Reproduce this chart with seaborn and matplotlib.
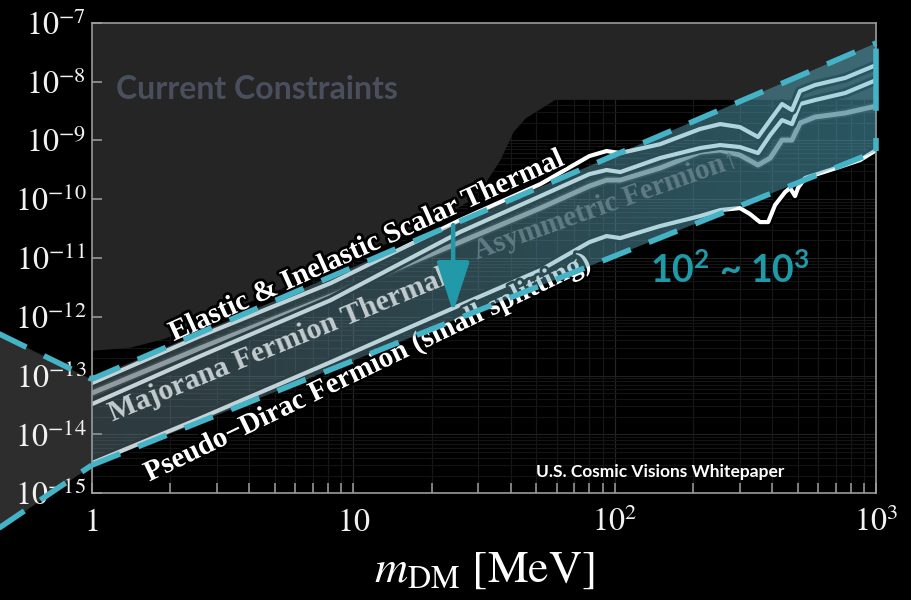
import numpy as np
import matplotlib
matplotlib.use("Agg")
import matplotlib.pyplot as plt
import matplotlib.patheffects as pe
from matplotlib.patches import Polygon
from matplotlib.ticker import LogLocator, NullLocator, NullFormatter
import seaborn as sns

# ---------------------------------------------------------------------------
# Thermal relic targets:  y = eps^2 alpha_D (m_DM / m_A')^4  versus m_DM [MeV]
# ---------------------------------------------------------------------------
mass_grid = [1.0, 2.6, 8.2, 25.6, 52, 80, 93, 105, 149, 212, 253, 301,
             353, 393, 436, 476, 511, 583, 760, 1000]
y_scalar = [7.45e-14, 4.70e-13, 3.74e-12, 4.41e-11, 1.81e-10, 5.41e-10,
            6.58e-10, 6.08e-10, 8.6e-10, 1.56e-9, 1.89e-9, 1.68e-9,
            1.14e-9, 2.21e-9, 4.14e-9, 3.27e-9, 6.89e-9, 8.71e-9,
            1.15e-8, 1.91e-8]
y_majorana = [3.27e-14, 2.15e-13, 1.92e-12, 2.76e-11, 1.13e-10, 2.67e-10,
              3.13e-10, 2.89e-10, 5.00e-10, 7.40e-10, 8.32e-10, 7.69e-10,
              6.08e-10, 1.23e-9, 2.21e-9, 1.89e-9, 4.14e-9, 4.84e-9,
              6.37e-9, 1.06e-8]
y_asymmetric = [5.04e-14, 2.94e-13, 2.25e-12, 1.86e-11, 7.06e-11, 1.67e-10,
                2.11e-10, 2.11e-10, 3.38e-10, 6.32e-10, 6.84e-10, 5.62e-10,
                3.80e-10, 5.00e-10, 1.01e-9, 1.01e-9, 1.97e-9, 2.49e-9,
                2.91e-9, 3.83e-9]

mass_pseudo_dirac = [1.0, 2.6, 8.2, 25.6, 52, 80, 93, 105, 149, 212, 253,
                     301, 329, 359, 386, 410, 448, 468, 489, 502, 534, 666,
                     867, 1000]
y_pseudo_dirac = [3.25e-15, 1.89e-14, 1.70e-13, 1.58e-12, 6.22e-12, 1.86e-11,
                  2.36e-11, 2.18e-11, 3.49e-11, 5.16e-11, 6.53e-11, 7.06e-11,
                  5.58e-11, 4.08e-11, 4.08e-11, 7.94e-11, 1.32e-10, 1.55e-10,
                  1.13e-10, 1.55e-10, 2.29e-10, 3.13e-10, 4.62e-10, 6.84e-10]

# Existing experimental limits (excluded above this edge)
limit_mass = [1.0, 1.40, 1.91, 2.60, 8.15, 19.7, 28.0, 32.5, 36.4, 40.8,
              45.4, 59.1, 1000]
limit_y = [2.7e-13, 3.05e-13, 4.35e-13, 8.1e-13, 6.8e-12, 3.8e-11, 9.8e-11,
           2.15e-10, 4.7e-10, 1.4e-9, 2.4e-9, 5.0e-9, 5.0e-9]

# Shifted target band (factor 10^2 - 10^3)
band_mass = [1.0, 1000.0]
band_upper = [8.71e-14, 4.52e-8]
band_lower = [3.01e-15, 6.5e-10]

# Zoom wedge leading in from the left panel
wedge_mass = [0.40, 1.0]
wedge_upper = [6.4e-13, 8.71e-14]
wedge_lower = [1.9e-16, 3.01e-15]

# Downward shift arrow
arrow_mass = 24.1
arrow_from = 3.63e-11
arrow_to = 1.2e-12

x_ticks = [1, 10, 100, 1000]
x_tick_labels = [r"$1$", r"$10$", r"$10^{2}$", r"$10^{3}$"]
y_ticks = [1e-15, 1e-14, 1e-13, 1e-12, 1e-11, 1e-10, 1e-9, 1e-8, 1e-7]
y_tick_labels = [r"$10^{-15}$", r"$10^{-14}$", r"$10^{-13}$", r"$10^{-12}$",
                 r"$10^{-11}$", r"$10^{-10}$", r"$10^{-9}$", r"$10^{-8}$",
                 r"$10^{-7}$"]

# ---------------------------------------------------------------------------
sns.set_style("dark", {"axes.facecolor": "black", "figure.facecolor": "black"})
plt.rcParams["mathtext.fontset"] = "stix"
plt.rcParams["font.family"] = ["DejaVu Sans"]

CYAN = "#44b3c6"
TEAL = "#1f9aa9"
SERIF = ["Liberation Serif", "DejaVu Serif"]

fig = plt.figure(figsize=(9.11, 6.0), dpi=100, facecolor="black")
ax = fig.add_axes([0.1007, 0.1778, 0.8612, 0.7844])
ax.set_facecolor("black")
ax.set_xscale("log")
ax.set_yscale("log")
ax.set_axisbelow(False)

# faint log grid
for dec in [1, 10, 100]:
    for k in range(1, 10):
        ax.axvline(dec * k, color="#262626" if k == 1 else "#171717", lw=0.9, zorder=0.5)
for dec in y_ticks[:-1]:
    for k in range(1, 10):
        ax.axhline(dec * k, color="#202020" if k == 1 else "#141414", lw=0.8, zorder=0.5)

# excluded region
ax.fill_between(limit_mass, limit_y, 1e-7, color="#252525", lw=0, zorder=1)

# wedge to the left of the axes
ax.fill_between(wedge_mass, wedge_lower, wedge_upper, color="#2d2d2d", lw=0,
                zorder=2, clip_on=False)

# thermal target curves
outline = [pe.Stroke(linewidth=7, foreground="black"), pe.Normal()]
sns.lineplot(x=mass_grid, y=y_asymmetric, ax=ax, color="#a3a3a3", lw=3.5,
             estimator=None, sort=False, zorder=2.2,
             path_effects=[pe.Stroke(linewidth=6, foreground="#1a1a1a"), pe.Normal()])
sns.lineplot(x=mass_grid, y=y_majorana, ax=ax, color="white", lw=3,
             estimator=None, sort=False, zorder=2.3, path_effects=outline)
sns.lineplot(x=mass_grid, y=y_scalar, ax=ax, color="white", lw=3,
             estimator=None, sort=False, zorder=2.4, path_effects=outline)
sns.lineplot(x=mass_pseudo_dirac, y=y_pseudo_dirac, ax=ax, color="white", lw=3,
             estimator=None, sort=False, zorder=2.4, path_effects=outline)

# curve labels
stroke = [pe.withStroke(linewidth=4, foreground="black")]
ax.text(11.2, 1.59e-11, "Elastic & Inelastic Scalar Thermal", rotation=24.3,
        ha="center", va="center", rotation_mode="anchor", color="white",
        fontsize=21, fontweight="bold", family=SERIF, zorder=3, path_effects=stroke)
ax.text(11.3, 1.34e-13, "Pseudo\u2212Dirac Fermion (small splitting)",
        rotation=25.8, ha="center", va="center", rotation_mode="anchor",
        color="white", fontsize=21, fontweight="bold", family=SERIF, zorder=3,
        path_effects=stroke)

# translucent shifted band with a left-to-right tint
band_poly = Polygon(np.column_stack([band_mass + band_mass[::-1],
                                     band_upper + band_lower[::-1]]),
                    closed=True, facecolor="none", edgecolor="none")
ax.add_patch(band_poly)
t = np.linspace(0, 1, 256)[:, None]
c_left = np.array([115, 145, 155, 0.40 * 255]) / 255
c_right = np.array([83, 174, 196, 0.50 * 255]) / 255
grad = (c_left * (1 - t) + c_right * t)[None, :, :]
img = ax.imshow(grad, extent=(0, 1, 0, 1), transform=ax.transAxes,
                aspect="auto", interpolation="bilinear", zorder=4)
img.set_clip_path(band_poly)

# labels sitting inside the band
ax.text(5.16, 3.3e-13, "Majorana Fermion Thermal", rotation=22.3,
        ha="center", va="center", rotation_mode="anchor", color="#c3cdd0",
        fontsize=21.5, fontweight="bold", family=SERIF, zorder=4.5)
ax.text(92.6, 7.94e-11, "Asymmetric Fermion\u2191", rotation=19.6,
        ha="center", va="center", rotation_mode="anchor", color="#5f7c84",
        fontsize=21, fontweight="bold", family=SERIF, zorder=4.5)

# dashed band edges
dash_kw = dict(color=CYAN, lw=4, dashes=(5.5, 3.5), dash_capstyle="butt",
               zorder=5, clip_on=False)
ax.plot(band_mass, band_upper, **dash_kw)
ax.plot(band_mass, band_lower, **dash_kw)
ax.plot(wedge_mass, wedge_upper, **dash_kw)
ax.plot(wedge_mass, wedge_lower, **dash_kw)
ax.plot([band_mass[1], band_mass[1]], [band_upper[1], band_lower[1]],
        color=CYAN, lw=4, linestyle=(15.1, (11.2, 4.9)), dash_capstyle="butt",
        zorder=5, clip_on=False)

# shift arrow
ax.annotate("", xy=(arrow_mass, arrow_to), xytext=(arrow_mass, arrow_from),
            arrowprops=dict(arrowstyle="-|>,head_length=1.1,head_width=0.36",
                            mutation_scale=28, lw=3.2, color="#2299a8",
                            shrinkA=0, shrinkB=0), zorder=6)

# annotations
plt.rcParams["mathtext.rm"] = "Lato:bold"
plt.rcParams["mathtext.it"] = "Lato:bold"
plt.rcParams["mathtext.bf"] = "Lato:bold"
shift_txt = ax.text(276, 6.22e-12, r"$10^{2}$ ~ $10^{3}$", ha="center", va="center",
                    color=TEAL, fontsize=27, fontweight="bold", family=["Lato"], zorder=6)
shift_txt.set_math_fontfamily("custom")
ax.text(0.2107, 0.859, "Current Constraints", transform=ax.transAxes,
        ha="center", va="center", color="#4a4f5e", fontsize=23,
        fontweight="bold", family=["Lato"], zorder=6)
ax.text(0.7243, 0.0453, "U.S. Cosmic Visions Whitepaper", transform=ax.transAxes,
        ha="center", va="center", color="white", fontsize=12.5,
        fontweight="bold", family=["Lato"], zorder=6)

# axes, ticks and labels
ax.set_xlim(1, 1000)
ax.set_ylim(1e-15, 1e-7)
ax.set_autoscale_on(False)
ax.set_xticks(x_ticks)
ax.set_xticklabels(x_tick_labels)
ax.xaxis.set_minor_locator(LogLocator(base=10, subs=np.arange(2, 10)))
ax.xaxis.set_minor_formatter(NullFormatter())
ax.set_yticks(y_ticks)
ax.set_yticklabels(y_tick_labels)
ax.yaxis.set_minor_locator(NullLocator())
ax.tick_params(axis="both", which="both", direction="in", color="#a0a0a0",
               labelcolor="#f2f2f2", labelsize=23, length=7, width=1.1,
               bottom=True, left=True, top=False, right=False)
ax.tick_params(axis="x", pad=10)
ax.tick_params(axis="y", pad=4)
for s in ax.spines.values():
    s.set_color("#9a9a9a")
    s.set_linewidth(1.2)
    s.set_visible(True)
ax.set_xlabel(r"$m_{\rm DM}\ [\rm MeV]$", color="white", fontsize=33, labelpad=6)

fig.savefig("out.png", dpi=100, facecolor="black")
